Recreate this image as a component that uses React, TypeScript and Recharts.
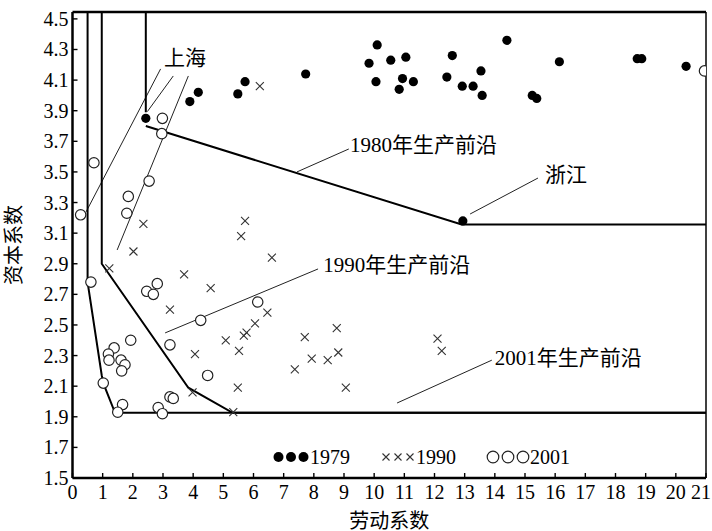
import { ComposedChart, Scatter, XAxis, YAxis, ReferenceLine } from 'recharts';

const FONT = '"Liberation Serif", "Noto Sans CJK SC", serif';

const X_TICKS = [0, 1, 2, 3, 4, 5, 6, 7, 8, 9, 10, 11, 12, 13, 14, 15, 16, 17, 18, 19, 20, 21];
const Y_TICKS = [1.5, 1.7, 1.9, 2.1, 2.3, 2.5, 2.7, 2.9, 3.1, 3.3, 3.5, 3.7, 3.9, 4.1, 4.3, 4.5];
const Y_TOP = 4.545;

// 1979 (filled dots)
const points1979 = [
  { x: 2.43, y: 3.85 }, { x: 3.89, y: 3.96 }, { x: 4.17, y: 4.02 }, { x: 5.48, y: 4.01 },
  { x: 5.72, y: 4.09 }, { x: 7.73, y: 4.14 }, { x: 9.83, y: 4.21 }, { x: 10.1, y: 4.33 },
  { x: 10.06, y: 4.09 }, { x: 10.55, y: 4.23 }, { x: 11.05, y: 4.25 }, { x: 10.94, y: 4.11 },
  { x: 10.83, y: 4.04 }, { x: 11.3, y: 4.09 }, { x: 12.59, y: 4.26 }, { x: 12.41, y: 4.12 },
  { x: 12.92, y: 4.06 }, { x: 13.28, y: 4.06 }, { x: 13.54, y: 4.16 }, { x: 13.58, y: 4.0 },
  { x: 14.4, y: 4.36 }, { x: 15.24, y: 4.0 }, { x: 15.39, y: 3.98 }, { x: 16.14, y: 4.22 },
  { x: 18.72, y: 4.24 }, { x: 18.87, y: 4.24 }, { x: 20.34, y: 4.19 }, { x: 12.94, y: 3.18 },
];

// 1990 (crosses)
const points1990 = [
  { x: 1.22, y: 2.87 }, { x: 2.02, y: 2.98 }, { x: 2.35, y: 3.16 }, { x: 3.23, y: 2.6 },
  { x: 3.7, y: 2.83 }, { x: 3.98, y: 2.06 }, { x: 4.06, y: 2.31 }, { x: 4.58, y: 2.74 },
  { x: 5.08, y: 2.4 }, { x: 5.33, y: 1.93 }, { x: 5.48, y: 2.09 }, { x: 5.52, y: 2.33 },
  { x: 5.59, y: 3.08 }, { x: 5.68, y: 2.43 }, { x: 5.72, y: 3.18 }, { x: 5.77, y: 2.45 },
  { x: 6.05, y: 2.51 }, { x: 6.21, y: 4.06 }, { x: 6.46, y: 2.58 }, { x: 6.61, y: 2.94 },
  { x: 7.37, y: 2.21 }, { x: 7.7, y: 2.42 }, { x: 7.93, y: 2.28 }, { x: 8.46, y: 2.27 },
  { x: 8.76, y: 2.48 }, { x: 8.81, y: 2.32 }, { x: 9.06, y: 2.09 }, { x: 12.1, y: 2.41 },
  { x: 12.24, y: 2.33 },
];

// 2001 (open circles)
const points2001 = [
  { x: 0.27, y: 3.22 }, { x: 0.71, y: 3.56 }, { x: 2.98, y: 3.85 }, { x: 2.96, y: 3.75 },
  { x: 2.54, y: 3.44 }, { x: 1.85, y: 3.34 }, { x: 1.8, y: 3.23 }, { x: 0.61, y: 2.78 },
  { x: 2.81, y: 2.77 }, { x: 2.46, y: 2.72 }, { x: 2.68, y: 2.7 }, { x: 6.14, y: 2.65 },
  { x: 4.25, y: 2.53 }, { x: 3.23, y: 2.37 }, { x: 1.93, y: 2.4 }, { x: 1.38, y: 2.35 },
  { x: 1.19, y: 2.31 }, { x: 1.21, y: 2.27 }, { x: 1.61, y: 2.27 }, { x: 1.74, y: 2.24 },
  { x: 1.63, y: 2.2 }, { x: 1.02, y: 2.12 }, { x: 4.48, y: 2.17 }, { x: 1.66, y: 1.98 },
  { x: 1.5, y: 1.93 }, { x: 3.23, y: 2.03 }, { x: 3.34, y: 2.02 }, { x: 2.84, y: 1.96 },
  { x: 2.98, y: 1.92 }, { x: 20.95, y: 4.16 },
];

// production frontiers
const frontier1980Top = [{ x: 2.43, y: Y_TOP }, { x: 2.43, y: 3.89 }];
const frontier1980 = [{ x: 2.43, y: 3.8 }, { x: 12.9, y: 3.157 }, { x: 21, y: 3.157 }];
const frontier1990 = [
  { x: 0.97, y: Y_TOP }, { x: 0.97, y: 2.9 }, { x: 3.84, y: 2.09 }, { x: 5.31, y: 1.926 }, { x: 21, y: 1.926 },
];
const frontier2001 = [
  { x: 0.5, y: Y_TOP }, { x: 0.5, y: 2.78 }, { x: 0.97, y: 2.17 }, { x: 1.02, y: 2.12 },
  { x: 1.41, y: 1.926 }, { x: 21, y: 1.926 },
];

// annotation leader lines
const leaders = [
  [{ x: 2.92, y: 4.173 }, { x: 0.45, y: 3.239 }],
  [{ x: 3.34, y: 4.127 }, { x: 2.48, y: 3.894 }],
  [{ x: 3.84, y: 4.127 }, { x: 1.48, y: 2.99 }],
  [{ x: 7.44, y: 3.5 }, { x: 9.16, y: 3.65 }],
  [{ x: 13.18, y: 3.225 }, { x: 15.43, y: 3.46 }],
  [{ x: 3.07, y: 2.448 }, { x: 8.14, y: 2.866 }],
  [{ x: 10.76, y: 1.99 }, { x: 13.9, y: 2.27 }],
];

const labels = [
  { x: 3.73, y: 4.245, text: '上海', anchor: 'middle' },
  { x: 9.2, y: 3.676, text: '1980年生产前沿', anchor: 'start' },
  { x: 15.66, y: 3.48, text: '浙江', anchor: 'start' },
  { x: 8.31, y: 2.892, text: '1990年生产前沿', anchor: 'start' },
  { x: 14.0, y: 2.284, text: '2001年生产前沿', anchor: 'start' },
];

function XTick({ x, y, payload }: any) {
  // keep the last label ("21") inside the picture
  const tx = Math.min(x, 701);
  return (
    <g>
      <line x1={x} y1={y} x2={x} y2={y - 5} stroke="#000" strokeWidth={1.4} />
      <text x={tx} y={y + 21} textAnchor="middle" fontSize={20} fontFamily={FONT} fill="#000">
        {payload.value}
      </text>
    </g>
  );
}

function YTick({ x, y, payload }: any) {
  return (
    <g>
      <line x1={x} y1={y} x2={x + 5} y2={y} stroke="#000" strokeWidth={1.4} />
      <text x={x - 4} y={y} dy={7} textAnchor="end" fontSize={20} fontFamily={FONT} fill="#000">
        {Number(payload.value).toFixed(1)}
      </text>
    </g>
  );
}

const Dot = (p: any) => <circle cx={p.cx} cy={p.cy} r={4.6} fill="#000" />;
const Cross = (p: any) => {
  const s = 4;
  return (
    <path
      d={`M${p.cx - s},${p.cy - s}L${p.cx + s},${p.cy + s}M${p.cx - s},${p.cy + s}L${p.cx + s},${p.cy - s}`}
      stroke="#333"
      strokeWidth={1.1}
      fill="none"
    />
  );
};
const Ring = (p: any) => <circle cx={p.cx} cy={p.cy} r={5.2} fill="#fff" stroke="#222" strokeWidth={1.2} />;
const NoShape = () => <g />;
const LabelText = (p: any) => (
  <text x={p.cx} y={p.cy} dy={7} textAnchor={p.payload.anchor} fontSize={21} fontFamily={FONT} fill="#000">
    {p.payload.text}
  </text>
);

const frontierLine = { stroke: '#000', strokeWidth: 2 };

function ChartLegend() {
  const txt = { fontSize: 20, fontFamily: FONT, color: '#000', lineHeight: '20px' };
  return (
    <div style={{ position: 'absolute', left: 272, top: 447, display: 'flex', alignItems: 'center', height: 20 }}>
      <svg width={38} height={20}>
        {[6.5, 19, 31.5].map((cx) => <circle key={cx} cx={cx} cy={10} r={5} fill="#000" />)}
      </svg>
      <span style={txt}>1979</span>
      <svg width={36} height={20} style={{ marginLeft: 30 }}>
        {[6, 18, 30].map((cx) => (
          <path key={cx} d={`M${cx - 3.5},6.5L${cx + 3.5},13.5M${cx - 3.5},13.5L${cx + 3.5},6.5`} stroke="#333" strokeWidth={1.1} />
        ))}
      </svg>
      <span style={txt}>1990</span>
      <svg width={44} height={20} style={{ marginLeft: 30 }}>
        {[7, 22, 37].map((cx) => <circle key={cx} cx={cx} cy={10} r={5.8} fill="none" stroke="#222" strokeWidth={1.2} />)}
      </svg>
      <span style={txt}>2001</span>
    </div>
  );
}

export default function App() {
  return (
    <div style={{ position: 'absolute', left: 0, top: 0, width: 712, height: 531, background: '#fff' }}>
      <ComposedChart width={712} height={531} margin={{ top: 12, right: 6, bottom: 1, left: 4 }}>
        <XAxis
          type="number"
          dataKey="x"
          domain={[0, 21]}
          ticks={X_TICKS}
          interval={0}
          allowDataOverflow
          height={52}
          tickSize={0}
          tickMargin={0}
          tickLine={false}
          tick={<XTick />}
          axisLine={{ stroke: '#000', strokeWidth: 2.5 }}
          label={{ value: '劳动系数', position: 'insideBottom', offset: 2, fontSize: 20, fontFamily: FONT, fill: '#000' }}
        />
        <YAxis
          type="number"
          dataKey="y"
          domain={[1.5, Y_TOP]}
          ticks={Y_TICKS}
          interval={0}
          allowDataOverflow
          width={68.5}
          tickSize={0}
          tickMargin={0}
          tickLine={false}
          tick={<YTick />}
          axisLine={{ stroke: '#000', strokeWidth: 2.5 }}
          label={{
            value: '资本系数', angle: -90, position: 'insideLeft', offset: 10,
            style: { textAnchor: 'middle' }, fontSize: 20, fontFamily: FONT, fill: '#000',
          }}
        />
        <ReferenceLine y={Y_TOP} stroke="#000" strokeWidth={2.5} />
        <ReferenceLine x={21} stroke="#000" strokeWidth={1.5} />
        {leaders.map((seg, i) => (
          <ReferenceLine key={i} segment={seg} stroke="#222" strokeWidth={1} />
        ))}
        <Scatter data={frontier1980Top} line={frontierLine} shape={NoShape} isAnimationActive={false} />
        <Scatter data={frontier1980} line={frontierLine} shape={NoShape} isAnimationActive={false} />
        <Scatter data={frontier1990} line={frontierLine} shape={NoShape} isAnimationActive={false} />
        <Scatter data={frontier2001} line={frontierLine} shape={NoShape} isAnimationActive={false} />
        <Scatter data={points1990} shape={Cross} isAnimationActive={false} />
        <Scatter data={points2001} shape={Ring} isAnimationActive={false} />
        <Scatter data={points1979} shape={Dot} isAnimationActive={false} />
        <Scatter data={labels} shape={LabelText} isAnimationActive={false} />
      </ComposedChart>
      <ChartLegend />
    </div>
  );
}
